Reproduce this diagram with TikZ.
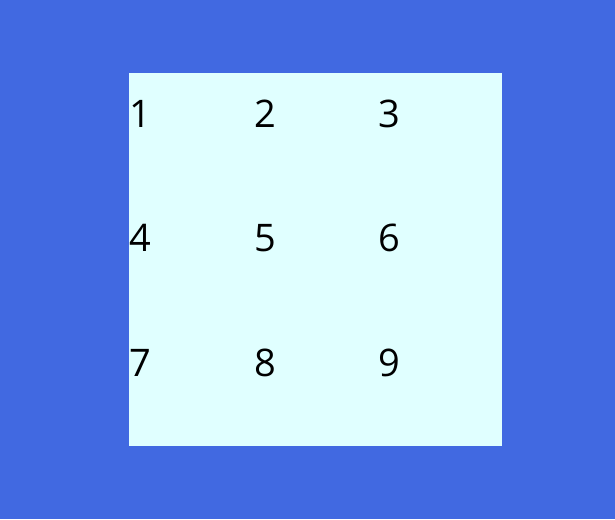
\documentclass[tikz,border=0pt]{standalone}
\usepackage{fontspec}
\setmainfont{Open Sans}
\definecolor{royalblue}{RGB}{65,105,225}
\definecolor{lightcyan}{RGB}{224,255,255}
\begin{document}
\begin{tikzpicture}[x=1pt,y=-1pt,
  cell/.style={anchor=base west,inner sep=0pt,font=\fontsize{38}{44}\selectfont,text=black}]
\fill[royalblue] (0,0) rectangle (615,519);
\useasboundingbox (0,0) rectangle (615,519);
\fill[lightcyan] (129,73) rectangle (502,446);
\foreach \r in {0,1,2}{
  \foreach \c in {0,1,2}{
    \pgfmathtruncatemacro{\n}{3*\r+\c+1}
    \node[cell] (n\n) at (129.5+124.5*\c, 127+124.5*\r) {\n};
  }
}
\end{tikzpicture}
\end{document}
